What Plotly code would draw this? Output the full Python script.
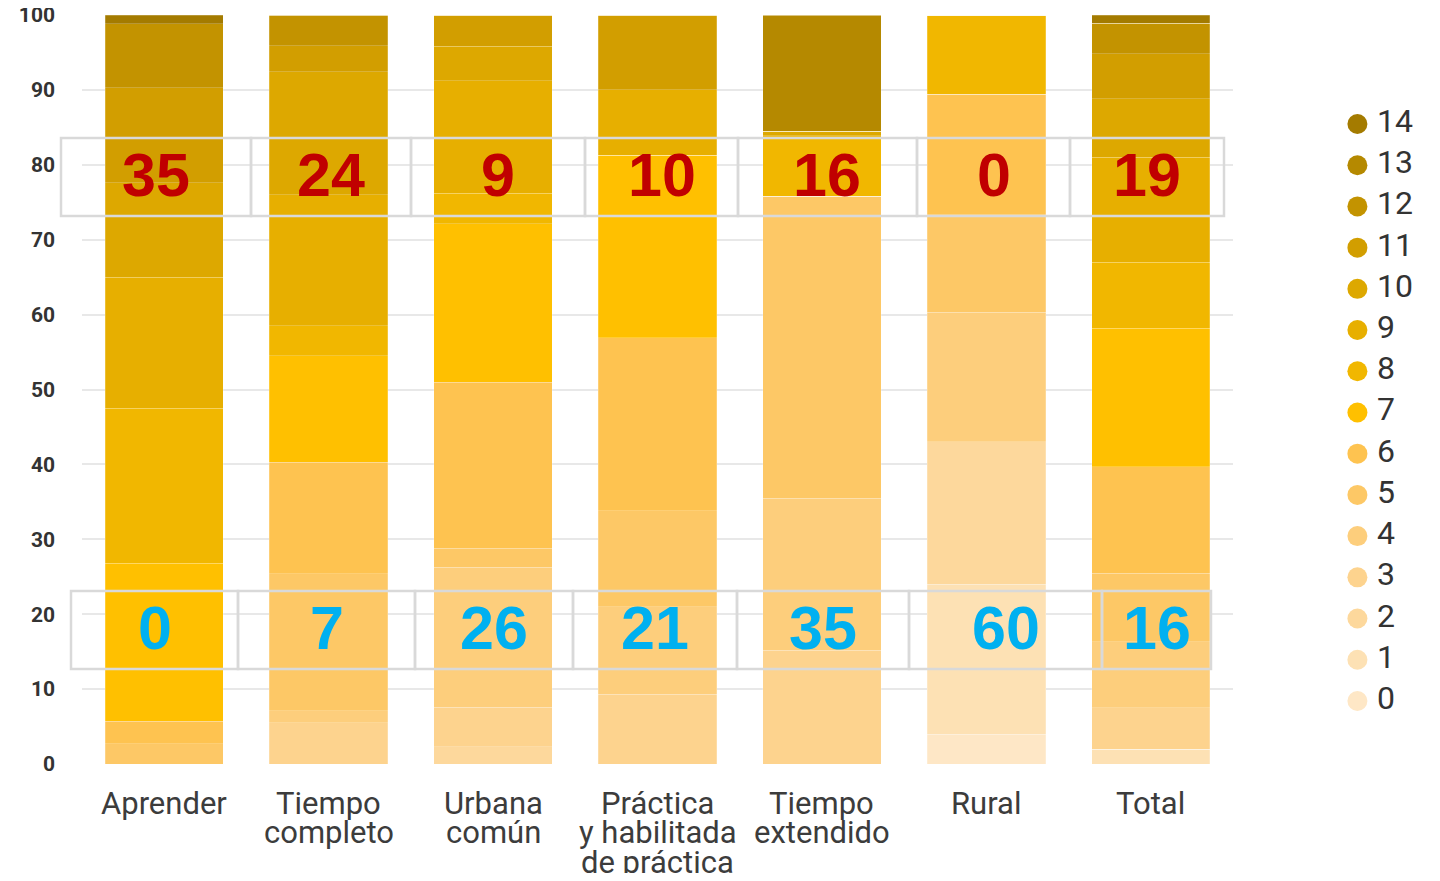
import plotly.graph_objects as go

# categorías (eje x) y sus etiquetas en varias líneas
cats = ['Aprender', 'Tiempo completo', 'Urbana común', 'Práctica y habilitada de práctica',
        'Tiempo extendido', 'Rural', 'Total']
cat_lines = [['Aprender'], ['Tiempo', 'completo'], ['Urbana', 'común'],
             ['Práctica', 'y habilitada', 'de práctica'], ['Tiempo', 'extendido'], ['Rural'], ['Total']]

# porcentaje de cada nivel (0..14) por categoría
lvl_0 = [0, 0, 0, 0, 0, 4.0, 0]
lvl_1 = [0, 0, 0, 0, 0, 20.0, 2.0]
lvl_2 = [0, 0, 2.3, 0, 0, 19.0, 0]
lvl_3 = [0, 5.5, 5.3, 9.3, 15.2, 0, 5.5]
lvl_4 = [0, 1.6, 18.7, 11.7, 20.3, 17.3, 8.8]
lvl_5 = [2.7, 18.3, 2.5, 12.8, 40.3, 13.0, 9.2]
lvl_6 = [3.0, 14.9, 22.2, 23.1, 0, 16.1, 14.2]
lvl_7 = [21.1, 14.2, 21.1, 24.4, 0, 0, 18.5]
lvl_8 = [20.7, 4.0, 4.1, 0, 8.1, 10.6, 8.8]
lvl_9 = [17.5, 17.5, 15.0, 8.7, 0, 0, 14.0]
lvl_10 = [12.6, 16.4, 4.6, 0, 0.6, 0, 7.8]
lvl_11 = [12.7, 3.5, 4.2, 10.0, 0, 0, 6.0]
lvl_12 = [8.5, 4.1, 0, 0, 0, 0, 4.1]
lvl_13 = [0, 0, 0, 0, 15.5, 0, 0]
lvl_14 = [1.2, 0, 0, 0, 0, 0, 1.1]
levels = [lvl_0, lvl_1, lvl_2, lvl_3, lvl_4, lvl_5, lvl_6, lvl_7,
          lvl_8, lvl_9, lvl_10, lvl_11, lvl_12, lvl_13, lvl_14]
level_names = [str(i) for i in range(15)]

# cifras de los recuadros
red_vals = [35, 24, 9, 10, 16, 0, 19]    # niveles 10-14
blue_vals = [0, 7, 26, 21, 35, 60, 16]   # niveles 0-4

colors = ['#FEE7C6', '#FDE1B4', '#FDD89C', '#FDD38E', '#FDCE7C', '#FDC866', '#FEC350',
          '#FFC000', '#F1B700', '#E7AF00', '#DDA800', '#D29E00', '#C39300', '#B58900', '#A47B00']

fig = go.Figure()
for i, vals in enumerate(levels):
    fig.add_bar(x=cats, y=vals, name=level_names[i], marker_color=colors[i],
                marker_line=dict(width=0.6, color='rgba(255,255,255,0.35)'),
                showlegend=False, hoverinfo='skip')

# leyenda dibujada como puntos en un eje aparte
fig.add_scatter(x=[0.62] * 15, y=list(range(15)), mode='markers', xaxis='x2', yaxis='y2',
                marker=dict(size=20, color=colors), showlegend=False, hoverinfo='skip')
fig.add_scatter(x=[0.72] * 15, y=list(range(15)), mode='text', text=level_names,
                textposition='middle right', xaxis='x2', yaxis='y2', showlegend=False,
                hoverinfo='skip', textfont=dict(family='Roboto', size=32, color='#333333'))

# la página deja 8 px de margen alrededor del gráfico
OFF = 8
W, H = 1424, 865
L, T = 74, 7
plot_w, plot_h = 1151, 749
B = H - T - plot_h


def px_x(p):
    return (p - OFF - L) / (W - L)


def px_y(p):
    return (H - B - (p - OFF)) / plot_h


# recuadros grises
red_edges = [61, 251, 411, 585, 738, 917, 1070, 1224]
blue_edges = [71, 238, 415, 573, 737, 909, 1102, 1211]
rows = [(red_edges, 138, 216, red_vals, '#C00000'), (blue_edges, 591, 669, blue_vals, '#00B0F0')]
shapes = []
annotations = []
for edges, top, bot, vals, col in rows:
    for j in range(len(vals)):
        shapes.append(dict(type='rect', xref='paper', yref='paper',
                           x0=px_x(edges[j]), x1=px_x(edges[j + 1]), y0=px_y(bot), y1=px_y(top),
                           line=dict(color='#D9D9D9', width=2.5), fillcolor='rgba(0,0,0,0)',
                           layer='above'))
        annotations.append(dict(xref='paper', yref='paper',
                                x=px_x((edges[j] + edges[j + 1]) / 2), y=px_y((top + bot) / 2),
                                text=f'<b>{vals[j]}</b>', showarrow=False,
                                xanchor='center', yanchor='middle', yshift=2,
                                font=dict(family='Liberation Sans', size=61, color=col)))

for c, lines in zip(cats, cat_lines):
    for k, ln in enumerate(lines):
        annotations.append(dict(x=c, y=0, xref='x', yref='y', text=ln, showarrow=False,
                                xanchor='center', yanchor='middle', yshift=-39 - 29.5 * k,
                                font=dict(family='Roboto', size=31, color='#3C3C3C')))

fig.update_layout(
    width=W, height=H, barmode='stack', bargap=0.28,
    plot_bgcolor='white', paper_bgcolor='white',
    margin=dict(l=L, r=0, t=T, b=B, autoexpand=False),
    shapes=shapes, annotations=annotations,
    xaxis=dict(domain=[0, plot_w / (W - L)], showticklabels=False, showgrid=False,
               zeroline=False, showline=False, automargin=False),
    yaxis=dict(range=[0, 100], dtick=10, showgrid=True, gridcolor='#E8E8E8', gridwidth=2,
               zeroline=False, showline=False, ticks='', ticklabelstandoff=26,
               ticklabeloverflow='allow', automargin=False,
               tickfont=dict(family='Roboto', size=21, color='#333333', weight='bold')),
    xaxis2=dict(domain=[plot_w / (W - L) + 0.002, 1], range=[0, 1], visible=False, anchor='y2'),
    yaxis2=dict(domain=[0, 1], range=[-1.53, 16.645], visible=False, anchor='x2'),
)

fig.write_html('out.html')
